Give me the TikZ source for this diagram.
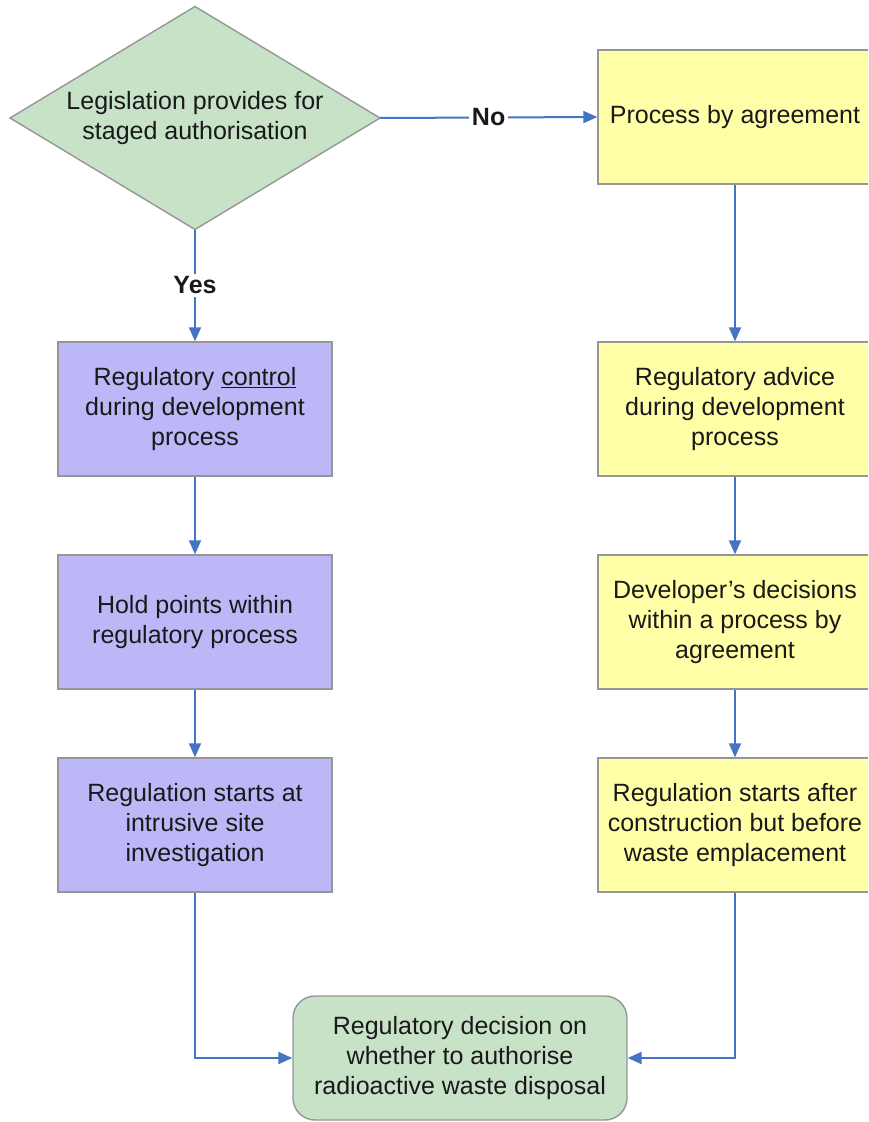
\documentclass[tikz,border=0pt]{standalone}
\usepackage{fontspec}
\setmainfont{Liberation Sans}
\usetikzlibrary{shapes.geometric,arrows.meta}
\definecolor{boxedge}{RGB}{150,150,150}
\definecolor{greenfill}{RGB}{200,226,200}
\definecolor{purplefill}{RGB}{188,184,248}
\definecolor{yellowfill}{RGB}{255,255,168}
\definecolor{flowblue}{RGB}{70,116,196}
\definecolor{inktext}{RGB}{25,25,25}
\tikzset{
  every node/.style={font=\fontsize{25}{30}\selectfont, text=inktext, align=center},
  basebox/.style={draw=boxedge, line width=1.4pt, minimum width=274pt, minimum height=134pt, inner sep=2pt},
  purplebox/.style={basebox, fill=purplefill},
  yellowbox/.style={basebox, fill=yellowfill},
  decision/.style={diamond, draw=boxedge, line width=1.4pt, fill=greenfill, minimum width=370pt, minimum height=223pt, inner sep=0pt, outer sep=0pt},
  endbox/.style={draw=boxedge, line width=1.4pt, fill=greenfill, rounded corners=22pt, minimum width=334pt, minimum height=124pt},
  flow/.style={draw=flowblue, line width=2pt, -{Triangle[length=14pt,width=12pt]}},
  choice/.style={fill=white, font=\fontsize{25}{30}\selectfont\bfseries, inner sep=3pt}
}
\begin{document}
\begin{tikzpicture}[x=1pt,y=-1pt]
\useasboundingbox (0,0) rectangle (868,1122);
\clip (0,0) rectangle (868,1122);
\fill[white] (0,0) rectangle (868,1122);

% decision and the two columns
\node[decision, label={[align=center]center:Legislation provides for\\staged authorisation}] (q) at (195,118) {};

\node[yellowbox] (agree) at (735,117) {Process by agreement};
\node[yellowbox] (advice) at (735,409) {Regulatory advice\\during development\\process};
\node[yellowbox] (devdec) at (735,622) {Developer’s decisions\\within a process by\\agreement};
\node[yellowbox] (after) at (735,825) {Regulation starts after\\construction but before\\waste emplacement};

\node[purplebox] (control) at (195,409) {Regulatory \underline{control}\\during development\\process};
\node[purplebox] (hold) at (195,622) {Hold points within\\regulatory process};
\node[purplebox] (intrusive) at (195,825) {Regulation starts at\\intrusive site\\investigation};

\node[endbox] (final) at (460,1058) {Regulatory decision on\\whether to authorise\\radioactive waste disposal};

% connectors
\draw[flow] (q.east) -- (agree.west) node[choice, pos=0.5] (no) {No};
\draw[flow] (q.south) -- (control.north) node[choice, pos=0.5] (yes) {Yes};
\draw[flow] (agree) -- (advice);
\draw[flow] (advice) -- (devdec);
\draw[flow] (devdec) -- (after);
\draw[flow] (control) -- (hold);
\draw[flow] (hold) -- (intrusive);
\draw[flow] (intrusive.south) |- (final.west);
\draw[flow] (after.south) |- (final.east);
\end{tikzpicture}
\end{document}
